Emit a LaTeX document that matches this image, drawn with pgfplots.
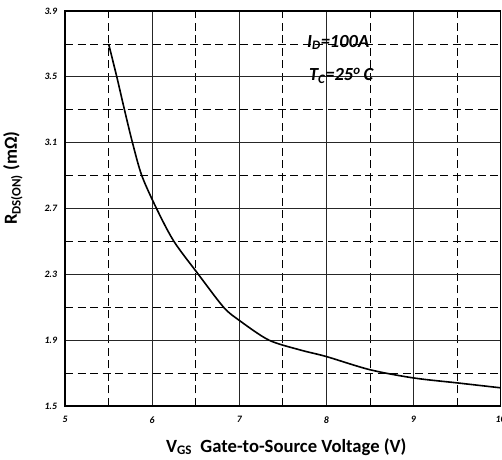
\documentclass[border=0pt]{standalone}
\usepackage{fontspec}
\setmainfont{Carlito}
\usepackage{pgfplots}
\pgfplotsset{compat=1.18}
\begin{document}
\begin{tikzpicture}
\begin{axis}[
  scale only axis, width=435bp, height=394.5bp,
  xmin=5, xmax=10, ymin=1.5, ymax=3.9,
  xtick={5,6,7,8,9,10},
  ytick={1.5,1.9,2.3,2.7,3.1,3.5,3.9},
  minor xtick={5.5,6.5,7.5,8.5,9.5},
  minor ytick={1.7,2.1,2.5,2.9,3.3,3.7},
  grid=both,
  major grid style={black!85, line width=0.7bp},
  minor grid style={black, line width=0.7bp, dash pattern=on 8bp off 4.5bp},
  axis line style={line width=1.8bp},
  major tick length=0pt, minor tick length=0pt,
  /pgf/number format/assume math mode=true,
  tick label style={font=\fontsize{9.8}{10}\selectfont\bfseries\itshape},
  xticklabel style={yshift=-7bp},
  yticklabel style={xshift=-4.5bp},
  xlabel={\textbf{V\textsubscript{GS}\ \ Gate-to-Source Voltage (V)}},
  ylabel={\textbf{R\textsubscript{DS(ON)} (mΩ)}},
  xlabel style={font=\fontsize{18.7}{20}\selectfont, at={(axis description cs:0.508,-0.117)}, anchor=base},
  ylabel style={font=\fontsize{18.5}{20}\selectfont, at={(axis description cs:-0.12,0.577)}, anchor=center},
]
\addplot[black, line width=1.6bp, smooth, tension=0.5] coordinates {
  (5.5,3.70) (5.594,3.5) (5.682,3.3) (5.774,3.1) (5.881,2.9) (6.05,2.7)
  (6.25,2.5) (6.53,2.3) (6.82,2.1) (7.0,2.02) (7.34,1.9) (7.7,1.84)
  (8,1.80) (8.5,1.72) (9,1.67) (9.5,1.64) (10,1.61)
};
\node[anchor=base west, inner sep=0pt, font=\fontsize{18.5}{20}\selectfont\bfseries\itshape]
  at (axis cs:7.778,3.68) {I\textsubscript{D}=100A};
\node[anchor=base west, inner sep=0pt, font=\fontsize{18.5}{20}\selectfont\bfseries\itshape]
  at (axis cs:7.80,3.476) {T\textsubscript{C}=25\textsuperscript{o}\,C};
\end{axis}
\pgfresetboundingbox
\path[use as bounding box] ([xshift=-65bp,yshift=-53.5bp]current axis.south west) rectangle ([xshift=1.5bp,yshift=11bp]current axis.north east);
\end{tikzpicture}
\end{document}
